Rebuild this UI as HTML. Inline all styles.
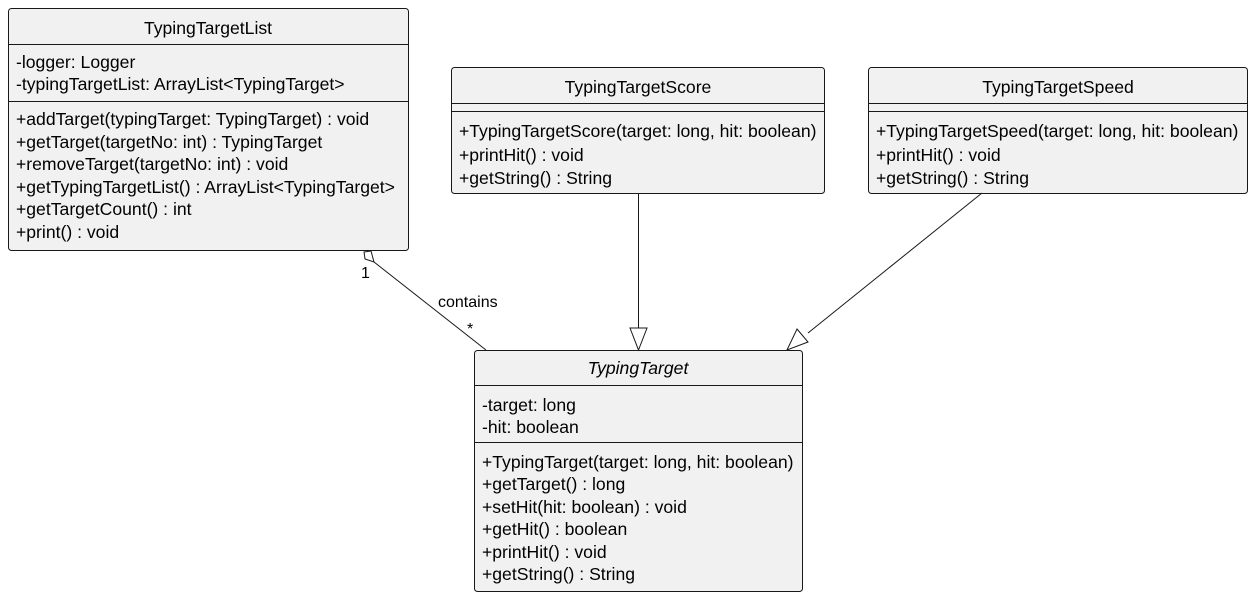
<!DOCTYPE html>
<html><head><meta charset="utf-8"><style>html,body{margin:0;padding:0;background:#fff}svg{display:block}</style></head><body>
<svg width="1254" height="599" xmlns="http://www.w3.org/2000/svg" font-family="'Liberation Sans', Arial, sans-serif" font-size="17.6" fill="#000">
<g stroke="#181818" stroke-width="1" fill="#f1f1f1">
<rect x="8.5" y="8.5" width="400" height="242" rx="3"/>
<rect x="451.5" y="67.5" width="373" height="126" rx="3"/>
<rect x="868.5" y="67.5" width="379" height="126" rx="3"/>
<rect x="474.5" y="350.5" width="328" height="241" rx="3"/>
</g>
<g stroke="#181818" stroke-width="1">
<line x1="8.5" y1="44.5" x2="408.5" y2="44.5"/>
<line x1="8.5" y1="101.5" x2="408.5" y2="101.5"/>
<line x1="451.5" y1="103.5" x2="824.5" y2="103.5"/>
<line x1="451.5" y1="111.5" x2="824.5" y2="111.5"/>
<line x1="868.5" y1="103.5" x2="1247.5" y2="103.5"/>
<line x1="868.5" y1="111.5" x2="1247.5" y2="111.5"/>
<line x1="474.5" y1="385.5" x2="802.5" y2="385.5"/>
<line x1="474.5" y1="442.5" x2="802.5" y2="442.5"/>
<line x1="374" y1="262" x2="486" y2="350"/>
<polygon points="364,252 371,251 374,262 365,259" fill="#fff"/>
<line x1="638.5" y1="193" x2="638.5" y2="328"/>
<polygon points="630,328 647,328 638.5,350" fill="#fff"/>
<line x1="982" y1="193" x2="808" y2="333"/>
<polygon points="797,329 808,342 787,350" fill="#fff"/>
</g>
<g>
<text x="208" y="34" text-anchor="middle">TypingTargetList</text>
<text x="16" y="68">-logger: Logger</text>
<text x="16" y="90">-typingTargetList: ArrayList&lt;TypingTarget&gt;</text>
<text x="16" y="125">+addTarget(typingTarget: TypingTarget) : void</text>
<text x="16" y="148">+getTarget(targetNo: int) : TypingTarget</text>
<text x="16" y="170">+removeTarget(targetNo: int) : void</text>
<text x="16" y="193">+getTypingTargetList() : ArrayList&lt;TypingTarget&gt;</text>
<text x="16" y="215">+getTargetCount() : int</text>
<text x="16" y="238">+print() : void</text>

<text x="638" y="93" text-anchor="middle">TypingTargetScore</text>
<text x="459" y="137">+TypingTargetScore(target: long, hit: boolean)</text>
<text x="459" y="161">+printHit() : void</text>
<text x="459" y="184">+getString() : String</text>

<text x="1058" y="93" text-anchor="middle">TypingTargetSpeed</text>
<text x="876" y="137">+TypingTargetSpeed(target: long, hit: boolean)</text>
<text x="876" y="161">+printHit() : void</text>
<text x="876" y="184">+getString() : String</text>

<text x="638" y="374" text-anchor="middle" font-style="italic">TypingTarget</text>
<text x="482" y="411">-target: long</text>
<text x="482" y="433">-hit: boolean</text>
<text x="482" y="468">+TypingTarget(target: long, hit: boolean)</text>
<text x="482" y="490">+getTarget() : long</text>
<text x="482" y="513">+setHit(hit: boolean) : void</text>
<text x="482" y="535">+getHit() : boolean</text>
<text x="482" y="558">+printHit() : void</text>
<text x="482" y="580">+getString() : String</text>

<text x="361" y="278" font-size="16">1</text>
<text x="438" y="307" font-size="16">contains</text>
<text x="467" y="334" font-size="16">*</text>
</g>
</svg>
</body></html>
